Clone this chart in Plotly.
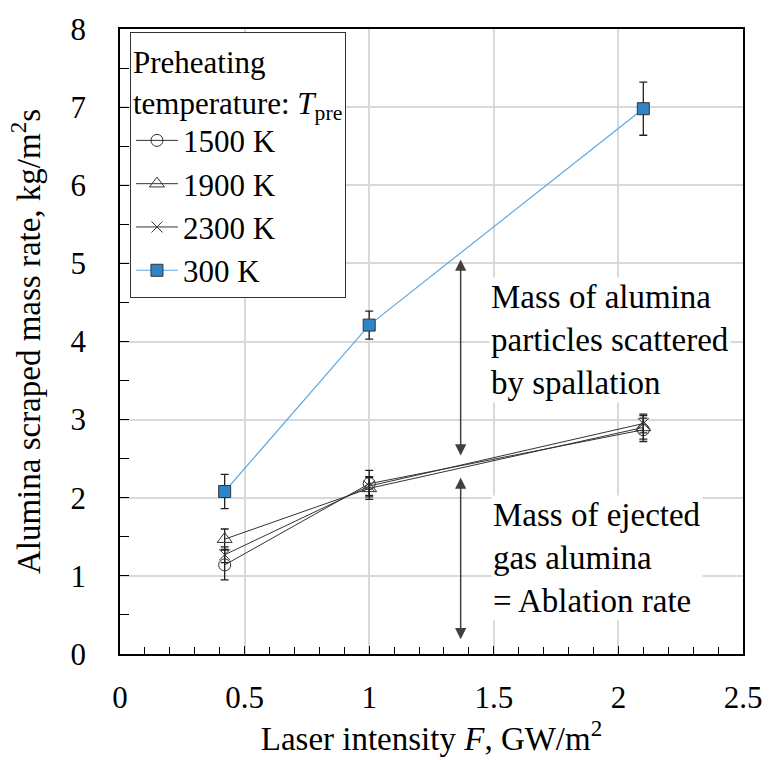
import plotly.graph_objects as go

x_vals = [0.42, 1.0, 2.1]

y_1500 = [1.14, 2.18, 2.87]
e_1500 = [0.19, 0.17, 0.15]
y_1900 = [1.47, 2.12, 2.90]
e_1900 = [0.13, 0.14, 0.15]
y_2300 = [1.27, 2.15, 2.95]
e_2300 = [0.10, 0.12, 0.12]
y_300 = [2.08, 4.21, 6.98]
e_300 = [0.22, 0.18, 0.34]

x_ticks = [0, 0.5, 1, 1.5, 2, 2.5]
x_tick_text = ["0", "0.5", "1", "1.5", "2", "2.5"]
y_ticks = [0, 1, 2, 3, 4, 5, 6, 7, 8]

arrow_x = 1.367
upper_arrow = (5.07, 2.54)
lower_arrow = (2.28, 0.19)

FONT = "Liberation Serif"
FS = 33
TICK_FS = 31
LEG_FS = 31

fig = go.Figure()

def add_series(name, y, e, symbol, color, lcolor, size, lw):
    fig.add_trace(go.Scatter(
        x=x_vals, y=y, name=name, mode="lines+markers",
        line=dict(color=lcolor, width=lw),
        marker=dict(symbol=symbol, size=size, color=color,
                    line=dict(color="#333333", width=1)),
        error_y=dict(type="data", array=e, visible=True, color="#222222",
                     thickness=1.3, width=4),
    ))

add_series("1500 K", y_1500, e_1500, "circle-open", "#333333", "#333333", 12, 1)
add_series("1900 K", y_1900, e_1900, "triangle-up-open", "#333333", "#333333", 13, 1)
add_series("2300 K", y_2300, e_2300, "x-thin-open", "#333333", "#333333", 11, 1)
add_series("300 K", y_300, e_300, "square", "#2E86C8", "#5DA9E0", 12, 1.2)

for (y0, y1) in (upper_arrow, lower_arrow):
    fig.add_annotation(x=arrow_x, y=y1, ax=arrow_x, ay=y0, xref="x", yref="y",
                       axref="x", ayref="y", showarrow=True, text="",
                       arrowhead=2, startarrowhead=2, arrowside="end+start",
                       arrowsize=1.5, startarrowsize=1.5,
                       arrowwidth=1.5, arrowcolor="#404040")

fig.add_annotation(x=1.48, y=4.02, xref="x", yref="y", xanchor="left", yanchor="middle",
                   text="Mass of alumina<br>particles scattered<br>by spallation",
                   align="left", showarrow=False, bgcolor="white",
                   font=dict(family=FONT, size=FS, color="black"))
fig.add_annotation(x=1.49, y=1.23, xref="x", yref="y", xanchor="left", yanchor="middle",
                   text="Mass of ejected<br>gas alumina<br>= Ablation rate",
                   align="left", showarrow=False, bgcolor="white",
                   font=dict(family=FONT, size=FS, color="black"))

fig.update_layout(
    width=774, height=760,
    margin=dict(l=120, r=23, t=25, b=103),
    paper_bgcolor="white", plot_bgcolor="white",
    font=dict(family=FONT, size=FS, color="black"),
    showlegend=True,
    legend=dict(
        x=0.016, y=0.995, xanchor="left", yanchor="top",
        bgcolor="white", bordercolor="#333333", borderwidth=1,
        title=dict(text="Preheating<br>temperature: <i>T</i><sub>pre</sub>",
                   font=dict(family=FONT, size=LEG_FS), side="top"),
        font=dict(family=FONT, size=LEG_FS),
        itemwidth=42,
    ),
    xaxis=dict(
        range=[0, 2.5], tickvals=x_ticks, ticktext=x_tick_text,
        showgrid=True, gridcolor="#d9d9d9", gridwidth=1.5,
        showline=True, linecolor="black", linewidth=1.5, mirror=True,
        ticks="inside", ticklen=8, tickcolor="black", tickwidth=1.2,
        minor=dict(dtick=0.1, ticks="inside", ticklen=7, tickcolor="black",
                   tickwidth=1.2, showgrid=False),
        ticklabelstandoff=15,
        zeroline=False,
        title=dict(text="Laser intensity <i>F</i>, GW/m<sup>2</sup>", standoff=10,
                   font=dict(family=FONT, size=33)),
        tickfont=dict(family=FONT, size=TICK_FS),
    ),
    yaxis=dict(
        range=[0, 8], tickvals=y_ticks,
        showgrid=True, gridcolor="#d9d9d9", gridwidth=1.5,
        showline=True, linecolor="black", linewidth=1.5, mirror=True,
        ticks="inside", ticklen=9, tickcolor="black", tickwidth=1.2,
        minor=dict(dtick=0.5, ticks="inside", ticklen=9, tickcolor="black",
                   tickwidth=1.2, showgrid=False),
        ticklabelstandoff=26,
        zeroline=False,
        title=dict(text="Alumina scraped mass rate, kg/m<sup>2</sup>s", standoff=20,
                   font=dict(family=FONT, size=FS)),
        tickfont=dict(family=FONT, size=TICK_FS),
    ),
)

fig.write_html("out.html")
